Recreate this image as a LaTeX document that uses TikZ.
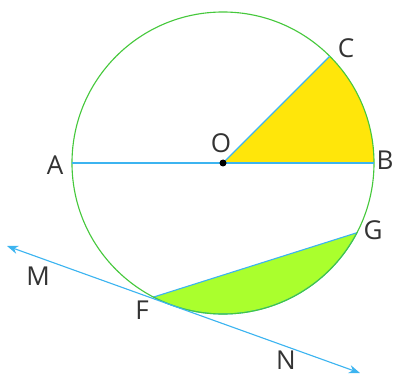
\documentclass[tikz,border=0pt]{standalone}
\usepackage{fontspec}
\setmainfont{Open Sans}
\usepackage{xcolor}
\usepackage{tikz}
\usetikzlibrary{arrows.meta}

\definecolor{circgreen}{RGB}{70,200,60}
\definecolor{lineblue}{RGB}{60,180,240}
\definecolor{sectyellow}{RGB}{255,230,10}
\definecolor{seggreen}{RGB}{170,255,45}

\begin{document}
\begin{tikzpicture}[
    x=0.025cm, y=0.025cm,
    pt/.style={font=\fontsize{18.5}{18.5}\selectfont, text=black!80, inner sep=1pt},
    blueline/.style={draw=lineblue, line width=0.8pt},
    circline/.style={draw=circgreen, line width=0.8pt}
]
\useasboundingbox (-223,-211) rectangle (170,163);

% Points on the circle
\coordinate (O) at (0,0);
\coordinate (A) at (180:151);
\coordinate (B) at (0:151);
\coordinate (C) at (45:151);
\coordinate (G) at (-27.5:151);
\coordinate (F) at (-117.4:151);
\coordinate (M) at (-216,-83);
\coordinate (N) at (137,-210);

% Filled regions
\fill[sectyellow] (O) -- (B) arc[start angle=0, end angle=45, radius=151] -- cycle;
\filldraw[fill=seggreen, blueline] (F) -- (G) arc[start angle=-27.5, end angle=-117.4, radius=151] -- cycle;

% Circle and lines
\draw[circline] (O) circle[radius=151];
\draw[blueline] (A) -- (B);
\draw[blueline] (O) -- (C);
\draw[blueline, {Stealth[length=8pt,width=6pt]}-{Stealth[length=8pt,width=6pt]}] (M) -- (N);
\fill[black] (O) circle[radius=3.5];

% Labels
\node[pt] (lO) at (-2,20) {O};
\node[pt] (lA) at (-168,-2) {A};
\node[pt] (lB) at (162,3) {B};
\node[pt] (lC) at (123,115) {C};
\node[pt] (lG) at (150,-67) {G};
\node[pt] (lF) at (-81,-147) {F};
\node[pt] (lM) at (-185,-113) {M};
\node[pt] (lN) at (63,-197) {N};

\end{tikzpicture}
\end{document}
